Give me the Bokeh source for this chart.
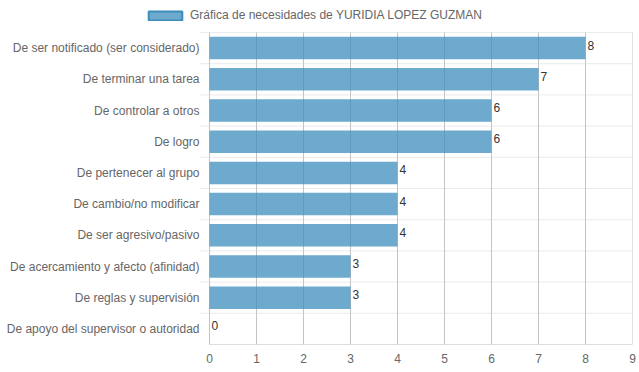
from bokeh.plotting import figure
from bokeh.models import FixedTicker, ColumnDataSource, Legend, LegendItem
from bokeh.core.properties import value
from bokeh.embed import file_html
from bokeh.resources import INLINE

categories = [
    "De ser notificado (ser considerado)",
    "De terminar una tarea",
    "De controlar a otros",
    "De logro",
    "De pertenecer al grupo",
    "De cambio/no modificar",
    "De ser agresivo/pasivo",
    "De acercamiento y afecto (afinidad)",
    "De reglas y supervisión",
    "De apoyo del supervisor o autoridad",
]
values = [8, 7, 6, 6, 4, 4, 4, 3, 3, 0]
x_ticks = [0, 1, 2, 3, 4, 5, 6, 7, 8, 9]
series_name = "Gráfica de necesidades de YURIDIA LOPEZ GUZMAN"

FONT = "Liberation Sans"
BAR = "rgb(60,141,188)"

n = len(categories)
idx = list(range(n))
src = ColumnDataSource(dict(y=idx, v=values, lab=[str(v) for v in values], cat=categories))

# layout in pixels (figure coordinates)
W, H = 639, 372
AREA_TOP = 32                # top of the category area
FRAME_H = 344                # frame spans from figure top to x axis
BOTTOM = H - FRAME_H         # x-axis label strip
AREA_LEFT = 209              # pixel where value 0 sits
AREA_RIGHT = 632             # pixel where the last tick sits
xmax = x_ticks[-1]
ppu_x = (AREA_RIGHT - AREA_LEFT) / xmax
row_px = (FRAME_H - AREA_TOP) / n
top_extra = AREA_TOP / row_px

p = figure(width=W, height=H, output_backend="svg", toolbar_location=None,
           x_range=(-AREA_LEFT / ppu_x, xmax), y_range=(n - 0.5, -0.5 - top_extra),
           min_border_left=0, min_border_right=W - AREA_RIGHT, min_border_top=0,
           min_border_bottom=BOTTOM)
p.outline_line_color = None
p.background_fill_color = "white"
p.border_fill_color = "white"
p.yaxis.visible = False
p.xgrid.grid_line_color = None
p.ygrid.grid_line_color = None

GRID = "#c4c4c4"
# horizontal grid lines between categories (with small tick stubs to the left)
bounds = [i - 0.5 for i in range(n)]
p.segment(x0=[-10 / ppu_x] * len(bounds), y0=bounds, x1=[xmax] * len(bounds), y1=bounds,
          line_color="#ebebeb", line_width=1)
# vertical grid lines over the category area
p.segment(x0=x_ticks, y0=[-0.5] * len(x_ticks), x1=x_ticks, y1=[n - 0.5 + 3 / row_px] * len(x_ticks),
          line_color=GRID, line_width=1)
# x axis base line
p.segment(x0=[x_ticks[0]], y0=[n - 0.5], x1=[xmax], y1=[n - 0.5], line_color="#bdbdbd", line_width=1)

bars = p.hbar(y="y", right="v", left=0, height=0.72, source=src,
              fill_color=BAR, fill_alpha=0.75, line_color=None)
p.text(x="v", y="y", text="lab", source=src, x_offset=2, y_offset=-3,
       text_font=value(FONT), text_font_size="12px", text_color="#333333",
       text_baseline="middle", text_align="left")
# category labels
p.text(x=0, y="y", text="cat", source=src, x_offset=-10,
       text_font=value(FONT), text_font_size="12px", text_color="#666666",
       text_baseline="middle", text_align="right")

# x axis
p.xaxis.ticker = FixedTicker(ticks=x_ticks)
p.xaxis.major_tick_out = 0
p.xaxis.major_tick_in = 0
p.xaxis.minor_tick_out = 0
p.xaxis.minor_tick_in = 0
p.xaxis.axis_line_color = None
p.xaxis.major_label_text_font = FONT
p.xaxis.major_label_text_font_size = "12px"
p.xaxis.major_label_text_color = "#666666"
p.xaxis.major_label_standoff = 9

# legend swatch renderer (hidden in the plot, drawn only in the legend)
swatch = p.hbar(y="y", right="v", left=0, height=0.72, source=src,
                fill_color=BAR, fill_alpha=0.75, line_color=BAR, line_width=2, visible=False)
legend = Legend(items=[LegendItem(label=series_name, renderers=[swatch])],
                location=(144, FRAME_H - 22), orientation="horizontal",
                label_text_font=FONT, label_text_font_size="12px", label_text_color="#666666",
                glyph_width=42, glyph_height=11, label_height=11,
                border_line_color=None, background_fill_alpha=0,
                padding=0, margin=0, label_standoff=4)
p.add_layout(legend, "center")

open("out.html", "w").write(file_html(p, INLINE))
